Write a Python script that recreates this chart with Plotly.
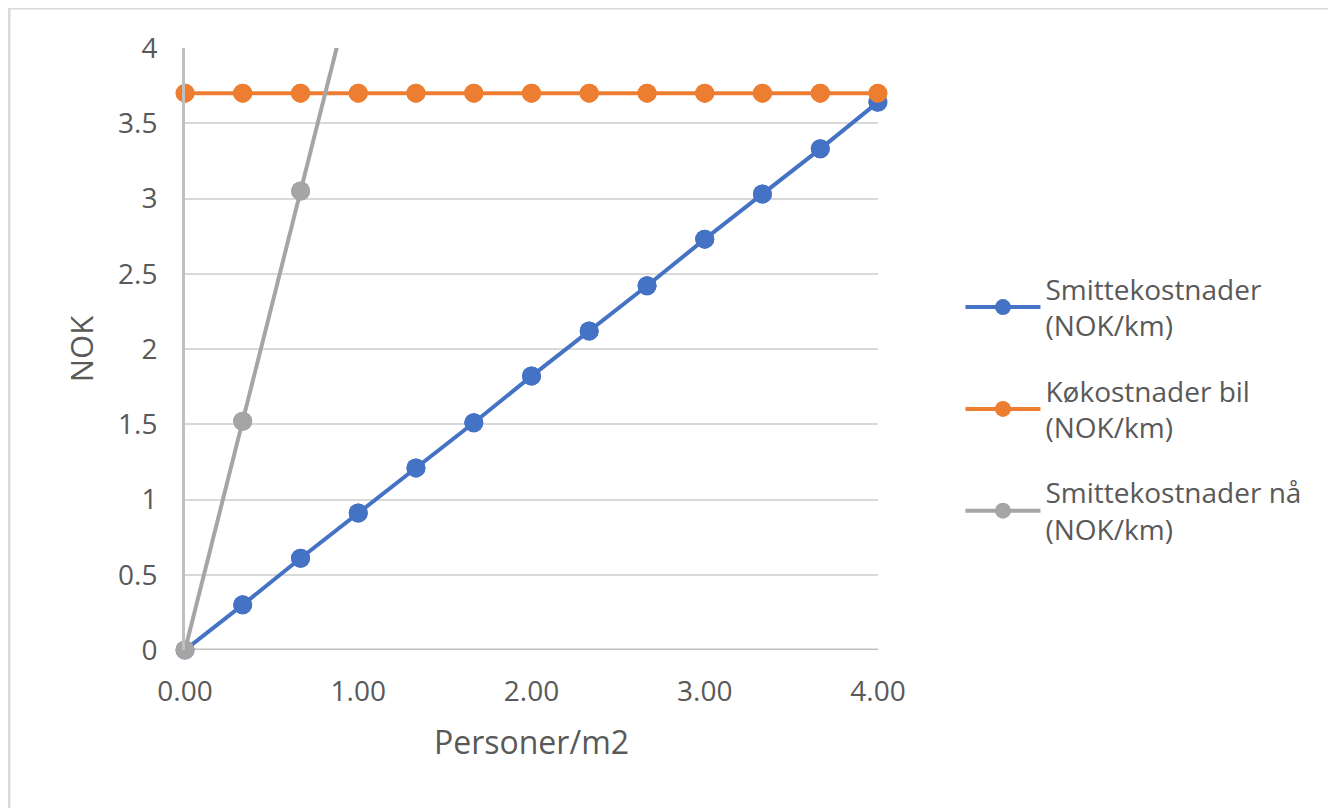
import plotly.graph_objects as go

x_vals = [0.00, 0.333, 0.667, 1.00, 1.333, 1.667, 2.00, 2.333, 2.667, 3.00, 3.333, 3.667, 4.00]
smitte = [0.00, 0.30, 0.61, 0.91, 1.21, 1.51, 1.82, 2.12, 2.42, 2.73, 3.03, 3.33, 3.64]
ko_bil = [3.70, 3.70, 3.70, 3.70, 3.70, 3.70, 3.70, 3.70, 3.70, 3.70, 3.70, 3.70, 3.70]
smitte_naa = [0.00, 1.52, 3.05, 4.57, 6.09, 7.62, 9.14, 10.66, 12.19, 13.71, 15.23, 16.76, 18.28]

names = ["Smittekostnader<br>(NOK/km)", "Køkostnader bil<br>(NOK/km)", "Smittekostnader nå<br>(NOK/km)"]
colors = ["#4472C4", "#ED7D31", "#A5A5A5"]
x_ticks = [0, 1, 2, 3, 4]
x_tick_text = ["0.00", "1.00", "2.00", "3.00", "4.00"]
y_ticks = [0, 0.5, 1, 1.5, 2, 2.5, 3, 3.5, 4]
y_tick_text = ["0", "0.5", "1", "1.5", "2", "2.5", "3", "3.5", "4"]
Y_MAX = 4

FONT = "Open Sans"
TXT = "#595959"

fig = go.Figure()
for i, (ys, nm, c) in enumerate(zip([smitte, ko_bil, smitte_naa], names, colors)):
    # line (clipped to plot area) + legend entry
    fig.add_trace(go.Scatter(
        x=x_vals, y=ys, name=nm, mode="lines+markers",
        line=dict(color=c, width=4),
        marker=dict(color=c, size=19),
        legendgroup=f"g{i}", cliponaxis=True,
    ))
    # markers inside the visible range, not clipped at the edges
    xs_in = [xv for xv, yv in zip(x_vals, ys) if yv <= Y_MAX]
    ys_in = [yv for yv in ys if yv <= Y_MAX]
    fig.add_trace(go.Scatter(
        x=xs_in, y=ys_in, mode="markers", showlegend=False,
        marker=dict(color=c, size=19), legendgroup=f"g{i}",
        cliponaxis=False, hoverinfo="skip",
    ))

fig.update_layout(
    width=1328, height=800,
    margin=dict(l=177, r=458, t=40, b=158),
    paper_bgcolor="white", plot_bgcolor="white",
    font=dict(family=FONT, color=TXT, size=28),
    showlegend=True,
    legend=dict(x=1.119, y=0.40, xanchor="left", yanchor="middle",
                font=dict(size=28, color=TXT), tracegroupgap=26, itemwidth=75,
                bgcolor="rgba(0,0,0,0)"),
    xaxis=dict(range=[0, 4], tickvals=x_ticks, ticktext=x_tick_text,
               showgrid=False, zeroline=False,
               showline=False, ticks="outside", ticklen=16, tickcolor="rgba(0,0,0,0)",
               tickfont=dict(size=28, color=TXT),
               title=dict(text="Personer/m2", font=dict(size=32, color=TXT), standoff=24)),
    yaxis=dict(range=[0, 4], tickvals=y_ticks, ticktext=y_tick_text,
               showgrid=True, gridcolor="#D9D9D9", gridwidth=2, zeroline=False,
               showline=True, linecolor="#BFBFBF", linewidth=3,
               ticks="outside", ticklen=19, tickcolor="rgba(0,0,0,0)",
               tickfont=dict(size=28, color=TXT),
               title=dict(text="NOK", font=dict(size=31, color=TXT), standoff=16)),
    shapes=[
        dict(type="line", xref="paper", yref="y", x0=0, x1=1, y0=0, y1=0,
             line=dict(color="#BFBFBF", width=3), layer="below"),
        dict(type="rect", xref="paper", yref="paper",
             x0=(9 - 185) / 693, x1=2.0, y0=-1.0, y1=(650 - 8) / 602,
             line=dict(color="#D9D9D9", width=3), layer="below"),
    ],
)

fig.write_html("out.html")
